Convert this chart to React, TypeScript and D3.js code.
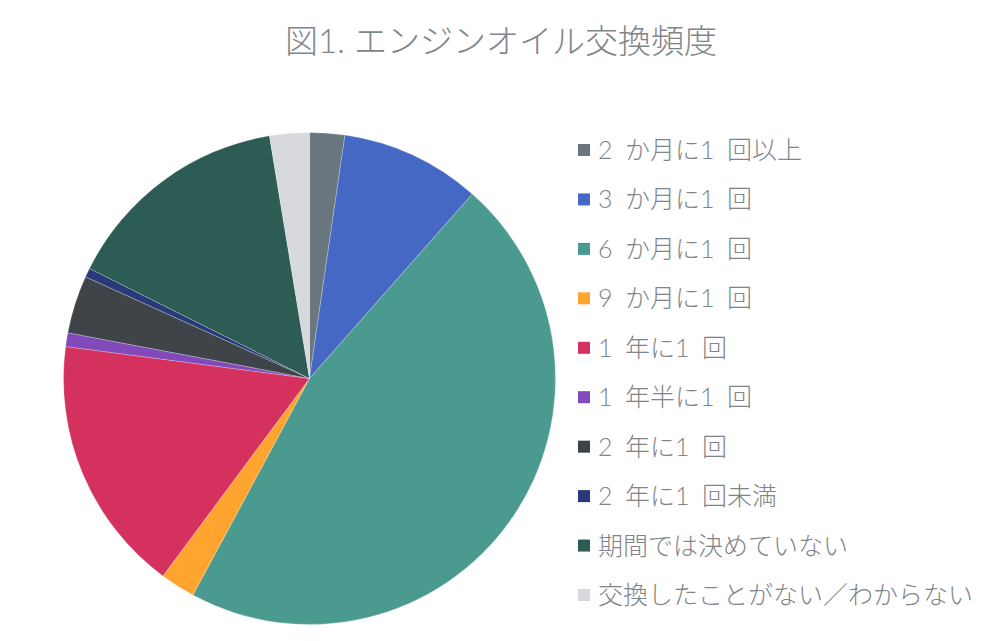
import React from "react";
import * as d3 from "d3";

const categories = [
  "2 か月に1 回以上",
  "3 か月に1 回",
  "6 か月に1 回",
  "9 か月に1 回",
  "1 年に1 回",
  "1 年半に1 回",
  "2 年に1 回",
  "2 年に1 回未満",
  "期間では決めていない",
  "交換したことがない／わからない",
];
const values = [2.3, 9.2, 46.3, 2.3, 16.9, 0.9, 3.8, 0.6, 15.0, 2.6];
const colors = [
  "#6b777e",
  "#4468c4",
  "#4a9a8f",
  "#ffa42e",
  "#d4315f",
  "#8149b9",
  "#3f4449",
  "#273b7a",
  "#2c5c54",
  "#d8d9dc",
];
const title = "図1. エンジンオイル交換頻度";

const W = 999;
const H = 641;
const FONT = "Lato, 'Noto Sans CJK JP', sans-serif";

export default function App() {
  const cx = 309.5;
  const cy = 378.5;
  const r = 246;
  const pie = d3.pie<number>().sort(null).value((d) => d)(values);
  const arc = d3.arc<d3.PieArcDatum<number>>().innerRadius(0).outerRadius(r);
  const legendY = d3
    .scalePoint<number>()
    .domain(d3.range(categories.length))
    .range([150, 595]);
  return (
    <svg
      width={W}
      height={H}
      style={{ position: "fixed", left: 0, top: 0, background: "#fff" }}
    >
      <text
        x={501}
        y={53}
        textAnchor="middle"
        fontFamily={FONT}
        fontWeight={300}
        fontSize={33}
        fill="#7f8589"
      >
        {title}
      </text>
      <g transform={`translate(${cx},${cy})`}>
        {pie.map((p, i) => (
          <path
            key={i}
            d={arc(p) || ""}
            fill={colors[i]}
            stroke="#ffffff"
            strokeWidth={0.4}
            strokeOpacity={0.6}
          />
        ))}
      </g>
      <g>
        {categories.map((c, i) => {
          const y = legendY(i) as number;
          return (
            <g key={i}>
              <rect x={578} y={y - 6} width={12} height={12} fill={colors[i]} />
              <text
                x={598}
                y={y}
                dy="0.36em"
                fontFamily={FONT}
                fontWeight={300}
                fontSize={25}
                fill="#7f8589"
              >
                {c.replace(/ /g, "\u2002")}
              </text>
            </g>
          );
        })}
      </g>
    </svg>
  );
}
